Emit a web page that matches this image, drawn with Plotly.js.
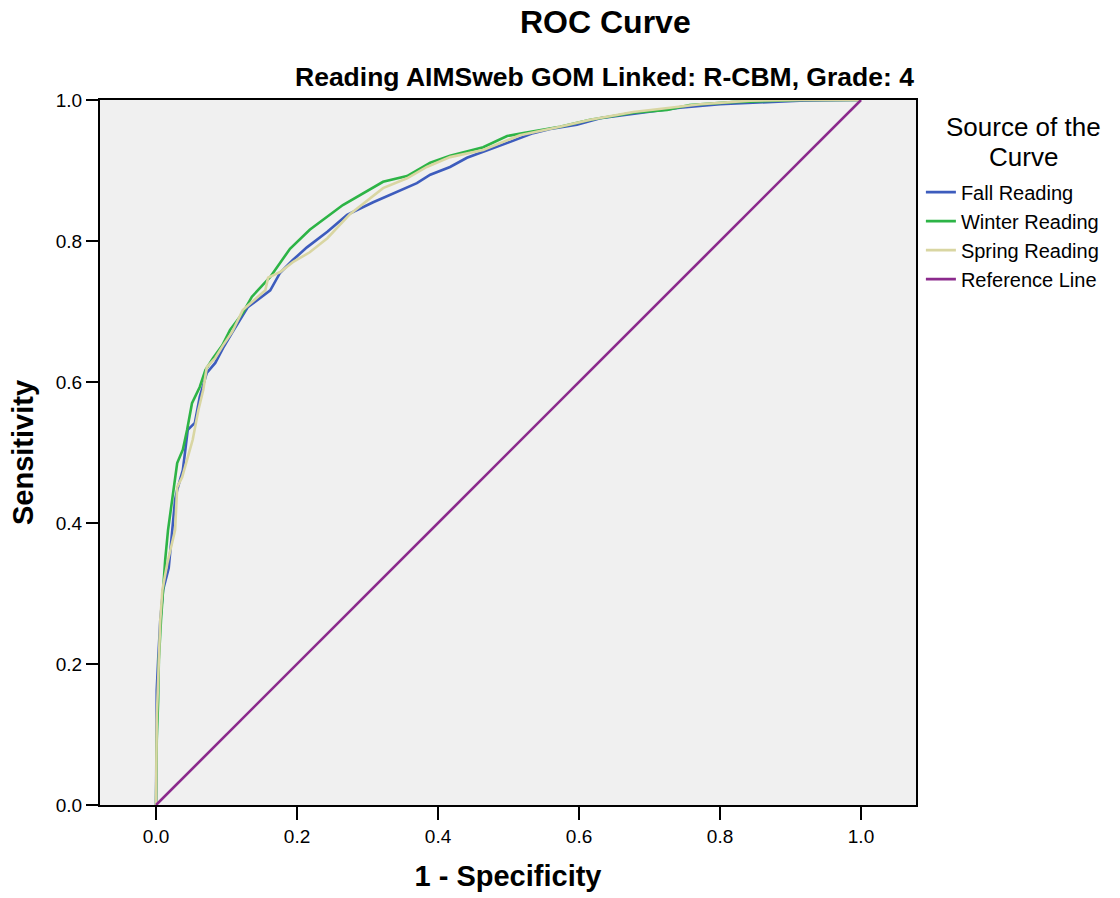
<!DOCTYPE html>
<html>
<head>
<meta charset="utf-8">
<script src="https://cdn.plot.ly/plotly-3.0.1.min.js"></script>
<style>html,body{margin:0;padding:0;background:#fff;}#chart{width:1120px;height:898px;}</style>
</head>
<body>
<div id="chart"></div>
<script>
// 1 - Specificity (x) and Sensitivity (y) for each source of the curve
const fallX   = [0,0,0.001,0.001,0.003,0.006,0.010,0.018,0.023,0.027,0.030,0.038,0.045,0.055,0.062,0.072,0.084,0.095,0.108,0.130,0.162,0.176,0.194,0.214,0.243,0.271,0.308,0.342,0.370,0.389,0.417,0.441,0.470,0.498,0.535,0.559,0.597,0.630,0.687,0.743,0.800,0.857,0.913,1];
const fallY   = [0,0.050,0.106,0.163,0.206,0.262,0.305,0.336,0.390,0.433,0.447,0.475,0.532,0.542,0.579,0.613,0.627,0.648,0.670,0.706,0.730,0.755,0.773,0.791,0.813,0.837,0.855,0.870,0.882,0.894,0.905,0.918,0.929,0.939,0.953,0.959,0.965,0.974,0.982,0.989,0.994,0.997,0.999,1];
const winterX = [0,0,0.001,0.003,0.004,0.007,0.010,0.013,0.017,0.023,0.027,0.030,0.038,0.044,0.051,0.062,0.070,0.081,0.094,0.105,0.123,0.136,0.162,0.190,0.218,0.265,0.322,0.356,0.389,0.417,0.464,0.498,0.521,0.573,0.616,0.677,0.725,0.757,0.818,0.913,1];
const winterY = [0,0.035,0.092,0.149,0.206,0.262,0.312,0.348,0.390,0.433,0.461,0.485,0.504,0.532,0.570,0.593,0.617,0.634,0.652,0.674,0.698,0.721,0.749,0.789,0.816,0.851,0.884,0.892,0.911,0.921,0.933,0.949,0.953,0.962,0.972,0.982,0.986,0.993,0.997,1,1];
const springX = [0,0,0.001,0.003,0.004,0.006,0.009,0.016,0.027,0.030,0.037,0.052,0.060,0.067,0.072,0.084,0.095,0.108,0.123,0.155,0.159,0.176,0.194,0.218,0.243,0.275,0.322,0.356,0.384,0.417,0.464,0.516,0.573,0.616,0.677,0.725,0.772,0.843,0.913,1];
const springY = [0,0.064,0.121,0.177,0.220,0.262,0.305,0.343,0.390,0.451,0.465,0.518,0.560,0.589,0.621,0.634,0.652,0.671,0.702,0.730,0.748,0.756,0.770,0.784,0.804,0.838,0.875,0.889,0.905,0.919,0.929,0.950,0.962,0.972,0.983,0.989,0.994,0.999,1,1];
const refX = [0,1];
const refY = [0,1];
const seriesNames = ["Fall Reading","Winter Reading","Spring Reading","Reference Line"];
const tickVals = [0,0.2,0.4,0.6,0.8,1.0];
const tickText = ["0.0","0.2","0.4","0.6","0.8","1.0"];

const colors = ["#3d5cbd","#2db446","#d9d6a2","#8b2a8c"];
const traces = [
  {x: fallX, y: fallY, name: seriesNames[0]},
  {x: winterX, y: winterY, name: seriesNames[1]},
  {x: springX, y: springY, name: seriesNames[2]},
  {x: refX, y: refY, name: seriesNames[3]}
].map((t,i)=>Object.assign(t,{type:'scatter',mode:'lines',line:{color:colors[i],width:2.6},hoverinfo:'skip'}));

const FONT = 'Arial, "Liberation Sans", sans-serif';
const layout = {
  width:1120, height:898,
  margin:{l:100,r:204,t:100,b:93},
  paper_bgcolor:'#ffffff', plot_bgcolor:'#f0f0f0',
  font:{family:FONT, color:'#000'},
  showlegend:true,
  legend:{x:1.006, xanchor:'left', y:0.897, yanchor:'top', bgcolor:'rgba(0,0,0,0)',
    font:{size:20, family:FONT}, tracegroupgap:0, itemwidth:30},
  xaxis:{range:[-0.0795,1.078], tickvals:tickVals, ticktext:tickText, ticks:'outside', ticklen:13, tickwidth:2, tickcolor:'#000',
    showline:true, linecolor:'#000', linewidth:2, mirror:true, showgrid:false, zeroline:false,
    tickfont:{size:19},
    title:{text:'<b>1 - Specificity</b>', font:{size:29}, standoff:20}},
  yaxis:{range:[0,1], tickvals:tickVals, ticktext:tickText, ticks:'outside', ticklen:12, tickwidth:2, tickcolor:'#000',
    showline:true, linecolor:'#000', linewidth:2, mirror:true, showgrid:false, zeroline:false,
    tickfont:{size:19},
    title:{text:'<b>Sensitivity</b>', font:{size:29}, standoff:14}},
  annotations:[
    {text:'<b>ROC Curve</b>', xref:'paper', yref:'paper', x:0.62, y:1, yshift:78, xanchor:'center', yanchor:'middle', showarrow:false, font:{size:32}},
    {text:'<b>Reading AIMSweb GOM Linked: R-CBM, Grade: 4</b>', xref:'paper', yref:'paper', x:1, y:1, yshift:23, xanchor:'right', yanchor:'middle', showarrow:false, font:{size:26.5}},
    {text:'Source of the', xref:'paper', yref:'paper', x:1, xshift:107, y:1, yshift:-27, xanchor:'center', yanchor:'middle', showarrow:false, font:{size:26}},
    {text:'Curve', xref:'paper', yref:'paper', x:1, xshift:107, y:1, yshift:-57, xanchor:'center', yanchor:'middle', showarrow:false, font:{size:26}}
  ]
};
Plotly.newPlot('chart', traces, layout, {displayModeBar:false, staticPlot:true});
</script>
</body>
</html>
